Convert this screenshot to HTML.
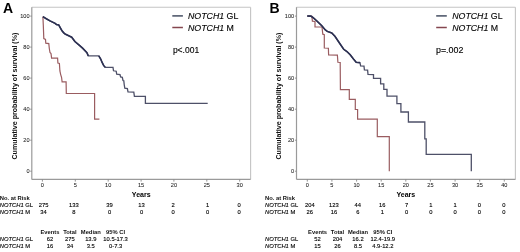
<!DOCTYPE html>
<html><head><meta charset="utf-8"><style>
html,body{margin:0;padding:0;background:#fff;width:520px;height:252px;overflow:hidden}
svg{display:block;filter:blur(0.35px)}
text{font-family:"Liberation Sans",sans-serif;fill:#111}
.tk{font-size:5.6px;fill:#1a1a1a;stroke:#1a1a1a;stroke-width:0.05px}
.yr{font-size:7.0px;font-weight:bold;fill:#000}
.yl{font-size:7.1px;font-weight:bold}
.lg{font-size:8.8px;fill:#000;stroke:#000;stroke-width:0.12px}
.pv{font-size:8.6px;fill:#000;stroke:#000;stroke-width:0.12px}
.let{font-size:14px;font-weight:bold;fill:#000}
.tb{font-size:5.8px;fill:#000;stroke:#000;stroke-width:0.12px}
.tbb{font-size:5.8px;font-weight:bold}
</style></head><body>
<svg width="520" height="252" viewBox="0 0 520 252">
<rect width="520" height="252" fill="#fff"/>
<line x1="31.8" y1="7.2" x2="250.6" y2="7.2" stroke="#c4c4c4" stroke-width="1.1"/>
<line x1="250.6" y1="7.2" x2="250.6" y2="179.4" stroke="#c4c4c4" stroke-width="1.1"/>
<line x1="31.8" y1="7.2" x2="31.8" y2="179.4" stroke="#9a9a9a" stroke-width="1.2"/>
<line x1="31.8" y1="179.4" x2="250.6" y2="179.4" stroke="#9a9a9a" stroke-width="1.2"/>
<line x1="30.2" y1="171.2" x2="31.8" y2="171.2" stroke="#888" stroke-width="0.9"/>
<text x="29.5" y="173.3" class="tk" text-anchor="end">0</text>
<line x1="30.2" y1="140.2" x2="31.8" y2="140.2" stroke="#888" stroke-width="0.9"/>
<text x="29.5" y="142.3" class="tk" text-anchor="end">20</text>
<line x1="30.2" y1="109.2" x2="31.8" y2="109.2" stroke="#888" stroke-width="0.9"/>
<text x="29.5" y="111.3" class="tk" text-anchor="end">40</text>
<line x1="30.2" y1="78.1" x2="31.8" y2="78.1" stroke="#888" stroke-width="0.9"/>
<text x="29.5" y="80.2" class="tk" text-anchor="end">60</text>
<line x1="30.2" y1="47.1" x2="31.8" y2="47.1" stroke="#888" stroke-width="0.9"/>
<text x="29.5" y="49.2" class="tk" text-anchor="end">80</text>
<line x1="30.2" y1="16.1" x2="31.8" y2="16.1" stroke="#888" stroke-width="0.9"/>
<text x="29.5" y="18.2" class="tk" text-anchor="end">100</text>
<line x1="42.4" y1="179.4" x2="42.4" y2="181.6" stroke="#888" stroke-width="0.9"/>
<text x="42.4" y="186.7" class="tk" text-anchor="middle">0</text>
<line x1="75.3" y1="179.4" x2="75.3" y2="181.6" stroke="#888" stroke-width="0.9"/>
<text x="75.3" y="186.7" class="tk" text-anchor="middle">5</text>
<line x1="108.2" y1="179.4" x2="108.2" y2="181.6" stroke="#888" stroke-width="0.9"/>
<text x="108.2" y="186.7" class="tk" text-anchor="middle">10</text>
<line x1="141.1" y1="179.4" x2="141.1" y2="181.6" stroke="#888" stroke-width="0.9"/>
<text x="141.1" y="186.7" class="tk" text-anchor="middle">15</text>
<line x1="173.9" y1="179.4" x2="173.9" y2="181.6" stroke="#888" stroke-width="0.9"/>
<text x="173.9" y="186.7" class="tk" text-anchor="middle">20</text>
<line x1="206.8" y1="179.4" x2="206.8" y2="181.6" stroke="#888" stroke-width="0.9"/>
<text x="206.8" y="186.7" class="tk" text-anchor="middle">25</text>
<line x1="239.7" y1="179.4" x2="239.7" y2="181.6" stroke="#888" stroke-width="0.9"/>
<text x="239.7" y="186.7" class="tk" text-anchor="middle">30</text>
<text x="141.2" y="197.0" class="yr" text-anchor="middle">Years</text>
<text transform="translate(16.5,96.1) rotate(-90)" class="yl" text-anchor="middle">Cumulative probability of survival (%)</text>
<polyline points="42.9,16.6 43.3,25.0 43.8,38.6 45.5,39.5 45.8,43.2 48.8,43.6 49.3,48.5 50.0,52.5 51.0,53.5 51.6,58.2 57.6,58.2 57.9,63.0 59.4,63.5 59.9,71.0 60.7,74.6 61.6,77.5 62.1,81.9 66.1,81.9 66.3,93.5 94.6,93.5 94.6,119.2 99.4,119.2" fill="none" stroke="#9a5c60" stroke-width="1.2"/>
<polyline points="42.9,16.6 46.3,18.7 50.0,20.9 55.1,23.3 56.5,24.6 58.7,24.9 61.8,30.5 63.5,32.6 65.1,34.0 71.7,37.2 74.9,41.5 79.7,45.6 82.6,48.2 86.9,52.6 88.3,55.9 98.8,55.9 100.7,59.0 102.0,62.2 103.6,65.4 105.2,67.3 113.0,67.3 113.5,70.8 116.2,71.2 116.7,74.2 120.0,74.6 120.6,77.0 122.3,77.4 123.0,80.5 123.8,80.8 124.2,84.5 124.8,88.2 127.4,88.6 128.0,91.9 133.8,92.1 134.4,96.4 145.4,96.4 145.4,103.4 207.7,103.4" fill="none" stroke="#4e5068" stroke-width="1.3"/>
<polyline points="42.9,16.6 46.3,18.7 50.0,20.9 55.1,23.3 56.5,24.6 58.7,24.9 61.8,30.5 63.5,32.6 65.1,34.0 71.7,37.2 74.9,41.5 79.7,45.6 82.6,48.2 86.9,52.6 88.3,55.9" fill="none" stroke="#2c3052" stroke-width="1.6"/>
<polyline points="98.8,55.9 100.7,59.0 102.0,62.2 103.6,65.4 105.2,67.3" fill="none" stroke="#2c3052" stroke-width="1.6"/>
<line x1="172.3" y1="15.9" x2="182.9" y2="15.9" stroke="#454e62" stroke-width="1.5"/>
<line x1="172.3" y1="27.5" x2="182.9" y2="27.5" stroke="#84464f" stroke-width="1.5"/>
<text x="188.0" y="19.4" class="lg"><tspan font-style="italic">NOTCH1</tspan> GL</text>
<text x="188.0" y="30.8" class="lg"><tspan font-style="italic">NOTCH1</tspan> M</text>
<text x="172.9" y="53.2" class="pv" style="font-size:8.5px">p&lt;.001</text>
<text x="3.0" y="13.2" class="let">A</text>
<line x1="296.5" y1="7.2" x2="515.4" y2="7.2" stroke="#c4c4c4" stroke-width="1.1"/>
<line x1="515.4" y1="7.2" x2="515.4" y2="179.4" stroke="#c4c4c4" stroke-width="1.1"/>
<line x1="296.5" y1="7.2" x2="296.5" y2="179.4" stroke="#9a9a9a" stroke-width="1.2"/>
<line x1="296.5" y1="179.4" x2="515.4" y2="179.4" stroke="#9a9a9a" stroke-width="1.2"/>
<line x1="294.9" y1="171.2" x2="296.5" y2="171.2" stroke="#888" stroke-width="0.9"/>
<text x="294.2" y="173.3" class="tk" text-anchor="end">0</text>
<line x1="294.9" y1="140.2" x2="296.5" y2="140.2" stroke="#888" stroke-width="0.9"/>
<text x="294.2" y="142.3" class="tk" text-anchor="end">20</text>
<line x1="294.9" y1="109.2" x2="296.5" y2="109.2" stroke="#888" stroke-width="0.9"/>
<text x="294.2" y="111.3" class="tk" text-anchor="end">40</text>
<line x1="294.9" y1="78.1" x2="296.5" y2="78.1" stroke="#888" stroke-width="0.9"/>
<text x="294.2" y="80.2" class="tk" text-anchor="end">60</text>
<line x1="294.9" y1="47.1" x2="296.5" y2="47.1" stroke="#888" stroke-width="0.9"/>
<text x="294.2" y="49.2" class="tk" text-anchor="end">80</text>
<line x1="294.9" y1="16.1" x2="296.5" y2="16.1" stroke="#888" stroke-width="0.9"/>
<text x="294.2" y="18.2" class="tk" text-anchor="end">100</text>
<line x1="307.3" y1="179.4" x2="307.3" y2="181.6" stroke="#888" stroke-width="0.9"/>
<text x="307.3" y="186.7" class="tk" text-anchor="middle">0</text>
<line x1="331.9" y1="179.4" x2="331.9" y2="181.6" stroke="#888" stroke-width="0.9"/>
<text x="331.9" y="186.7" class="tk" text-anchor="middle">5</text>
<line x1="356.6" y1="179.4" x2="356.6" y2="181.6" stroke="#888" stroke-width="0.9"/>
<text x="356.6" y="186.7" class="tk" text-anchor="middle">10</text>
<line x1="381.2" y1="179.4" x2="381.2" y2="181.6" stroke="#888" stroke-width="0.9"/>
<text x="381.2" y="186.7" class="tk" text-anchor="middle">15</text>
<line x1="405.8" y1="179.4" x2="405.8" y2="181.6" stroke="#888" stroke-width="0.9"/>
<text x="405.8" y="186.7" class="tk" text-anchor="middle">20</text>
<line x1="430.4" y1="179.4" x2="430.4" y2="181.6" stroke="#888" stroke-width="0.9"/>
<text x="430.4" y="186.7" class="tk" text-anchor="middle">25</text>
<line x1="455.1" y1="179.4" x2="455.1" y2="181.6" stroke="#888" stroke-width="0.9"/>
<text x="455.1" y="186.7" class="tk" text-anchor="middle">30</text>
<line x1="479.7" y1="179.4" x2="479.7" y2="181.6" stroke="#888" stroke-width="0.9"/>
<text x="479.7" y="186.7" class="tk" text-anchor="middle">35</text>
<line x1="504.3" y1="179.4" x2="504.3" y2="181.6" stroke="#888" stroke-width="0.9"/>
<text x="504.3" y="186.7" class="tk" text-anchor="middle">40</text>
<text x="405.9" y="197.0" class="yr" text-anchor="middle">Years</text>
<text transform="translate(281.2,96.1) rotate(-90)" class="yl" text-anchor="middle">Cumulative probability of survival (%)</text>
<polyline points="307.3,16.0 311.9,16.3 312.4,21.2 315.0,21.5 315.0,27.0 322.0,27.0 322.8,34.2 324.3,34.6 324.3,48.0 328.4,48.2 328.6,55.0 337.4,55.2 337.9,62.3 340.2,62.5 340.4,89.6 349.3,89.6 349.3,99.4 355.3,99.4 355.3,109.5 357.6,109.5 357.6,119.2 377.3,119.2 377.3,136.6 389.3,136.6 389.3,171.3" fill="none" stroke="#9a5c60" stroke-width="1.2"/>
<polyline points="307.3,16.0 310.9,16.1 313.1,17.6 316.4,20.5 321.8,25.7 325.1,29.7 327.3,31.4 331.7,32.9 334.9,36.2 339.3,42.8 343.7,49.3 346.9,51.5 350.2,54.8 353.5,59.1 356.2,62.3 360.0,62.6 360.6,65.8 364.0,66.1 364.4,69.8 367.6,70.2 368.0,74.4 373.5,74.6 373.5,78.3 380.6,78.3 380.6,83.8 383.8,83.8 383.8,89.4 387.0,89.4 387.0,96.2 396.9,96.2 396.9,103.7 400.9,103.7 400.9,112.0 408.4,112.0 408.4,122.0 424.8,122.0 424.8,138.8 426.2,138.8 426.2,154.3 471.3,154.3 471.3,171.3" fill="none" stroke="#4e5068" stroke-width="1.3"/>
<polyline points="307.3,16.0 310.9,16.1 313.1,17.6 316.4,20.5 321.8,25.7 325.1,29.7 327.3,31.4 331.7,32.9 334.9,36.2 339.3,42.8 343.7,49.3 346.9,51.5 350.2,54.8 353.5,59.1 356.2,62.3 360.0,62.6" fill="none" stroke="#2c3052" stroke-width="1.6"/>
<line x1="436.2" y1="15.9" x2="446.8" y2="15.9" stroke="#454e62" stroke-width="1.5"/>
<line x1="436.2" y1="27.5" x2="446.8" y2="27.5" stroke="#84464f" stroke-width="1.5"/>
<text x="452.2" y="19.4" class="lg"><tspan font-style="italic">NOTCH1</tspan> GL</text>
<text x="452.2" y="30.8" class="lg"><tspan font-style="italic">NOTCH1</tspan> M</text>
<text x="436.0" y="53.2" class="pv" style="font-size:8.9px">p=.002</text>
<text x="269.5" y="13.2" class="let">B</text>
<text x="-0.2" y="199.9" class="tbb">No. at Risk</text>
<text x="-0.2" y="207.0" class="tb"><tspan font-style="italic">NOTCH1</tspan> GL</text>
<text x="-0.2" y="213.7" class="tb"><tspan font-style="italic">NOTCH1</tspan> M</text>
<text x="43.6" y="207.0" class="tb" text-anchor="middle">275</text>
<text x="73.9" y="207.0" class="tb" text-anchor="middle">133</text>
<text x="109.6" y="207.0" class="tb" text-anchor="middle">39</text>
<text x="141.6" y="207.0" class="tb" text-anchor="middle">13</text>
<text x="173.2" y="207.0" class="tb" text-anchor="middle">2</text>
<text x="207.5" y="207.0" class="tb" text-anchor="middle">1</text>
<text x="239.0" y="207.0" class="tb" text-anchor="middle">0</text>
<text x="43.6" y="213.7" class="tb" text-anchor="middle">34</text>
<text x="73.9" y="213.7" class="tb" text-anchor="middle">8</text>
<text x="109.6" y="213.7" class="tb" text-anchor="middle">0</text>
<text x="141.6" y="213.7" class="tb" text-anchor="middle">0</text>
<text x="173.2" y="213.7" class="tb" text-anchor="middle">0</text>
<text x="207.5" y="213.7" class="tb" text-anchor="middle">0</text>
<text x="239.0" y="213.7" class="tb" text-anchor="middle">0</text>
<text x="49.9" y="234.4" class="tbb" text-anchor="middle">Events</text>
<text x="69.9" y="234.4" class="tbb" text-anchor="middle">Total</text>
<text x="90.8" y="234.4" class="tbb" text-anchor="middle">Median</text>
<text x="115.6" y="234.4" class="tbb" text-anchor="middle">95% CI</text>
<text x="-0.2" y="241.3" class="tb"><tspan font-style="italic">NOTCH1</tspan> GL</text>
<text x="-0.2" y="247.9" class="tb"><tspan font-style="italic">NOTCH1</tspan> M</text>
<text x="49.9" y="241.3" class="tb" text-anchor="middle">62</text>
<text x="69.9" y="241.3" class="tb" text-anchor="middle">275</text>
<text x="90.8" y="241.3" class="tb" text-anchor="middle">13.9</text>
<text x="115.6" y="241.3" class="tb" text-anchor="middle">10.5-17.3</text>
<text x="49.9" y="247.9" class="tb" text-anchor="middle">16</text>
<text x="69.9" y="247.9" class="tb" text-anchor="middle">34</text>
<text x="90.8" y="247.9" class="tb" text-anchor="middle">3.5</text>
<text x="115.6" y="247.9" class="tb" text-anchor="middle">0-7.3</text>
<text x="265.0" y="199.9" class="tbb">No. at Risk</text>
<text x="265.0" y="207.0" class="tb"><tspan font-style="italic">NOTCH1</tspan> GL</text>
<text x="265.0" y="213.7" class="tb"><tspan font-style="italic">NOTCH1</tspan> M</text>
<text x="309.8" y="207.0" class="tb" text-anchor="middle">204</text>
<text x="333.9" y="207.0" class="tb" text-anchor="middle">123</text>
<text x="357.8" y="207.0" class="tb" text-anchor="middle">44</text>
<text x="382.3" y="207.0" class="tb" text-anchor="middle">16</text>
<text x="406.5" y="207.0" class="tb" text-anchor="middle">7</text>
<text x="430.8" y="207.0" class="tb" text-anchor="middle">1</text>
<text x="455.0" y="207.0" class="tb" text-anchor="middle">1</text>
<text x="479.3" y="207.0" class="tb" text-anchor="middle">0</text>
<text x="503.8" y="207.0" class="tb" text-anchor="middle">0</text>
<text x="309.8" y="213.7" class="tb" text-anchor="middle">26</text>
<text x="333.9" y="213.7" class="tb" text-anchor="middle">16</text>
<text x="357.8" y="213.7" class="tb" text-anchor="middle">6</text>
<text x="382.3" y="213.7" class="tb" text-anchor="middle">1</text>
<text x="406.5" y="213.7" class="tb" text-anchor="middle">0</text>
<text x="430.8" y="213.7" class="tb" text-anchor="middle">0</text>
<text x="455.0" y="213.7" class="tb" text-anchor="middle">0</text>
<text x="479.3" y="213.7" class="tb" text-anchor="middle">0</text>
<text x="503.8" y="213.7" class="tb" text-anchor="middle">0</text>
<text x="317.6" y="234.4" class="tbb" text-anchor="middle">Events</text>
<text x="337.5" y="234.4" class="tbb" text-anchor="middle">Total</text>
<text x="358.0" y="234.4" class="tbb" text-anchor="middle">Median</text>
<text x="382.8" y="234.4" class="tbb" text-anchor="middle">95% CI</text>
<text x="265.0" y="241.3" class="tb"><tspan font-style="italic">NOTCH1</tspan> GL</text>
<text x="265.0" y="247.9" class="tb"><tspan font-style="italic">NOTCH1</tspan> M</text>
<text x="317.6" y="241.3" class="tb" text-anchor="middle">52</text>
<text x="337.5" y="241.3" class="tb" text-anchor="middle">204</text>
<text x="358.0" y="241.3" class="tb" text-anchor="middle">16.2</text>
<text x="382.8" y="241.3" class="tb" text-anchor="middle">12.4-19.9</text>
<text x="317.6" y="247.9" class="tb" text-anchor="middle">15</text>
<text x="337.5" y="247.9" class="tb" text-anchor="middle">26</text>
<text x="358.0" y="247.9" class="tb" text-anchor="middle">8.5</text>
<text x="382.8" y="247.9" class="tb" text-anchor="middle">4.9-12.2</text>
</svg>
</body></html>
